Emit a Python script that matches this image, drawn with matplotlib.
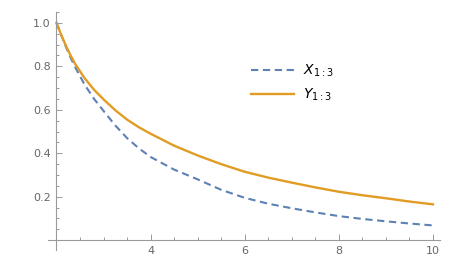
import matplotlib
matplotlib.use("Agg")
import matplotlib.pyplot as plt
from matplotlib.ticker import MultipleLocator, FixedLocator

# values
x_vals = [2.0, 2.1, 2.2, 2.3, 2.4, 2.6, 2.8, 3.0, 3.25, 3.5, 3.75, 4.0, 4.5,
          5.0, 5.5, 6.0, 6.5, 7.0, 7.5, 8.0, 8.5, 9.0, 9.5, 10.0]
x13 = [1.0, 0.945, 0.89, 0.84, 0.795, 0.715, 0.65, 0.595, 0.528, 0.47, 0.423,
       0.383, 0.325, 0.28, 0.232, 0.195, 0.168, 0.147, 0.128, 0.111, 0.098,
       0.087, 0.077, 0.068]
y13 = [1.0, 0.945, 0.895, 0.85, 0.81, 0.745, 0.692, 0.648, 0.598, 0.555, 0.52,
       0.49, 0.435, 0.39, 0.35, 0.315, 0.288, 0.265, 0.243, 0.223, 0.207,
       0.193, 0.178, 0.165]
labels = [r'$X_{1:3}$', r'$Y_{1:3}$']

W, H = 471, 257
fig = plt.figure(figsize=(W / 100, H / 100), dpi=100)
ax = fig.add_axes([48 / W, 7 / H, (440 - 48) / W, (250 - 12) / H])

blue = '#5E81B5'
orange = '#E19C24'
ax.plot(x_vals, x13, color=blue, lw=1.5, dashes=(3.5, 2.2), label=labels[0])
ax.plot(x_vals, y13, color=orange, lw=1.7, label=labels[1])

ax.set_xlim(1.82, 10.15)
ax.set_ylim(-0.045, 1.05)

axis_col = '#9a9a9a'
for s in ['top', 'right']:
    ax.spines[s].set_visible(False)
ax.spines['left'].set_position(('data', 2))
ax.spines['bottom'].set_position(('data', 0))
for s in ['left', 'bottom']:
    ax.spines[s].set_color(axis_col)
    ax.spines[s].set_linewidth(0.8)

ax.xaxis.set_major_locator(FixedLocator([2, 4, 6, 8, 10]))
ax.xaxis.set_minor_locator(MultipleLocator(0.5))
ax.yaxis.set_major_locator(FixedLocator([0.0, 0.2, 0.4, 0.6, 0.8, 1.0]))
ax.yaxis.set_minor_locator(MultipleLocator(0.05))
ax.set_xticklabels(['', '4', '6', '8', '10'])
ax.set_yticklabels(['', '0.2', '0.4', '0.6', '0.8', '1.0'])

ax.tick_params(which='both', direction='in', color=axis_col, width=0.7,
               labelcolor='#666666', labelsize=8)
ax.tick_params(which='major', length=4, pad=4)
ax.tick_params(which='minor', length=2.2)

ax.legend(loc='upper left', bbox_to_anchor=(238 / W, 1 - 50 / H),
          bbox_transform=fig.transFigure, frameon=False, fontsize=10,
          handlelength=3.1, handletextpad=0.7, labelspacing=0.55)

plt.savefig('out.png', dpi=100)
